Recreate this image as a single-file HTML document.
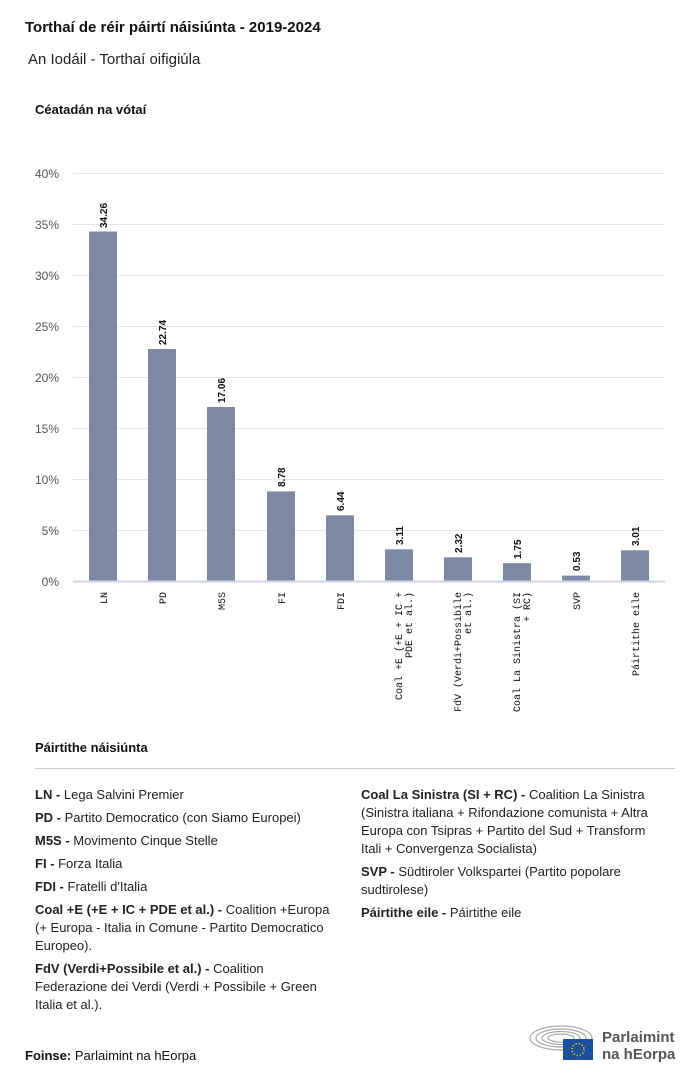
<!DOCTYPE html>
<html><head><meta charset="utf-8"><style>
body{margin:0;width:700px;height:1082px;background:#fff;font-family:"Liberation Sans",sans-serif;color:#111;position:relative;overflow:hidden}
.a{position:absolute}
.leg{font-size:13px;line-height:18px;color:#222}
.leg p{margin:0 0 5px 0}
.leg b{font-weight:bold}
</style></head><body>
<div class="a" style="left:25px;top:19px;font-size:15px;font-weight:bold">Torthaí de réir páirtí náisiúnta - 2019-2024</div>
<div class="a" style="left:28px;top:51px;font-size:15px;color:#222">An Iodáil - Torthaí oifigiúla</div>
<div class="a" style="left:35px;top:102px;font-size:13px;font-weight:bold">Céatadán na vótaí</div>
<svg class="a" style="left:0;top:0" width="700" height="740">
<g stroke="#e6e6e6" stroke-width="1">
<line x1="73" x2="665" y1="173.5" y2="173.5"/><line x1="73" x2="665" y1="224.5" y2="224.5"/><line x1="73" x2="665" y1="275.5" y2="275.5"/><line x1="73" x2="665" y1="326.5" y2="326.5"/><line x1="73" x2="665" y1="377.5" y2="377.5"/><line x1="73" x2="665" y1="428.5" y2="428.5"/><line x1="73" x2="665" y1="479.5" y2="479.5"/><line x1="73" x2="665" y1="530.5" y2="530.5"/>
</g>
<g font-family="Liberation Sans,sans-serif" font-size="12" fill="#555" text-anchor="end">
<text x="59" y="178">40%</text><text x="59" y="229">35%</text><text x="59" y="280">30%</text><text x="59" y="331">25%</text><text x="59" y="382">20%</text><text x="59" y="433">15%</text><text x="59" y="484">10%</text><text x="59" y="535">5%</text><text x="59" y="586">0%</text>
</g>
<g fill="#7f88a5">
<rect x="89" y="231.5" width="28" height="349.5"/>
<rect x="148" y="349" width="28" height="232"/>
<rect x="207" y="407" width="28" height="174"/>
<rect x="267" y="491.4" width="28" height="89.6"/>
<rect x="326" y="515.3" width="28" height="65.7"/>
<rect x="385" y="549.3" width="28" height="31.7"/>
<rect x="444" y="557.3" width="28" height="23.7"/>
<rect x="503" y="563.2" width="28" height="17.8"/>
<rect x="562" y="575.6" width="28" height="5.4"/>
<rect x="621" y="550.3" width="28" height="30.7"/>
</g>
<line x1="73" x2="665" y1="581.5" y2="581.5" stroke="#d0d4e6" stroke-width="2"/>
<g font-family="Liberation Sans,sans-serif" font-size="10" font-weight="bold" fill="#111">
<text transform="translate(107,228) rotate(-90)">34.26</text>
<text transform="translate(166,345) rotate(-90)">22.74</text>
<text transform="translate(225,403) rotate(-90)">17.06</text>
<text transform="translate(285,487) rotate(-90)">8.78</text>
<text transform="translate(344,511) rotate(-90)">6.44</text>
<text transform="translate(403,545) rotate(-90)">3.11</text>
<text transform="translate(462,553) rotate(-90)">2.32</text>
<text transform="translate(521,559) rotate(-90)">1.75</text>
<text transform="translate(580,571) rotate(-90)">0.53</text>
<text transform="translate(639,546) rotate(-90)">3.01</text>
</g>
<g font-family="Liberation Mono,monospace" font-size="10" fill="#111" text-anchor="end">
<text transform="translate(107,592) rotate(-90)">LN</text>
<text transform="translate(166,592) rotate(-90)">PD</text>
<text transform="translate(225,592) rotate(-90)">M5S</text>
<text transform="translate(285,592) rotate(-90)">FI</text>
<text transform="translate(344,592) rotate(-90)">FDI</text>
<text transform="translate(402,592) rotate(-90)">Coal +E (+E + IC +</text>
<text transform="translate(412,592) rotate(-90)">PDE et al.)</text>
<text transform="translate(461,592) rotate(-90)">FdV (Verdi+Possibile</text>
<text transform="translate(471,592) rotate(-90)">et al.)</text>
<text transform="translate(520,592) rotate(-90)">Coal La Sinistra (SI</text>
<text transform="translate(530,592) rotate(-90)">+ RC)</text>
<text transform="translate(580,592) rotate(-90)">SVP</text>
<text transform="translate(639,592) rotate(-90)">Páirtithe eile</text>
</g>
</svg>
<div class="a" style="left:35px;top:740px;font-size:13px;font-weight:bold">Páirtithe náisiúnta</div>
<div class="a" style="left:35px;top:768px;width:640px;height:1px;background:#ccc"></div>
<div class="a leg" style="left:35px;top:786px;width:305px">
<p><b>LN -</b> Lega Salvini Premier</p>
<p><b>PD -</b> Partito Democratico (con Siamo Europei)</p>
<p><b>M5S -</b> Movimento Cinque Stelle</p>
<p><b>FI -</b> Forza Italia</p>
<p><b>FDI -</b> Fratelli d'Italia</p>
<p><b>Coal +E (+E + IC + PDE et al.) -</b> Coalition +Europa<br>(+ Europa - Italia in Comune - Partito Democratico Europeo).</p>
<p><b>FdV (Verdi+Possibile et al.) -</b> Coalition<br>Federazione dei Verdi (Verdi + Possibile + Green Italia et al.).</p>
</div>
<div class="a leg" style="left:361px;top:786px;width:315px">
<p><b>Coal La Sinistra (SI + RC) -</b> Coalition La Sinistra<br>(Sinistra italiana + Rifondazione comunista + Altra<br>Europa con Tsipras + Partito del Sud + Transform<br>Itali + Convergenza Socialista)</p>
<p><b>SVP -</b> Südtiroler Volkspartei (Partito popolare<br>sudtirolese)</p>
<p><b>Páirtithe eile -</b> Páirtithe eile</p>
</div>
<div class="a" style="left:25px;top:1048px;font-size:13px"><b>Foinse:</b> Parlaimint na hEorpa</div>
<svg class="a" style="left:528px;top:1022px" width="70" height="40">
<g fill="none" stroke="#aaa" stroke-width="1.2">
<ellipse cx="33" cy="16" rx="31" ry="12"/><ellipse cx="33" cy="16" rx="25" ry="9"/><ellipse cx="33" cy="16" rx="19" ry="6.5"/><ellipse cx="33" cy="16" rx="13" ry="4"/>
</g>
<rect x="35" y="17" width="30" height="21" fill="#1d4fa0"/>
<circle cx="50" cy="27.5" r="6" fill="none" stroke="#f5d000" stroke-width="1.5" stroke-dasharray="1.2 2"/>
</svg>
<div class="a" style="left:602px;top:1029px;font-size:15px;line-height:17px;font-weight:bold;color:#555">Parlaimint<br>na hEorpa</div>
</body></html>
